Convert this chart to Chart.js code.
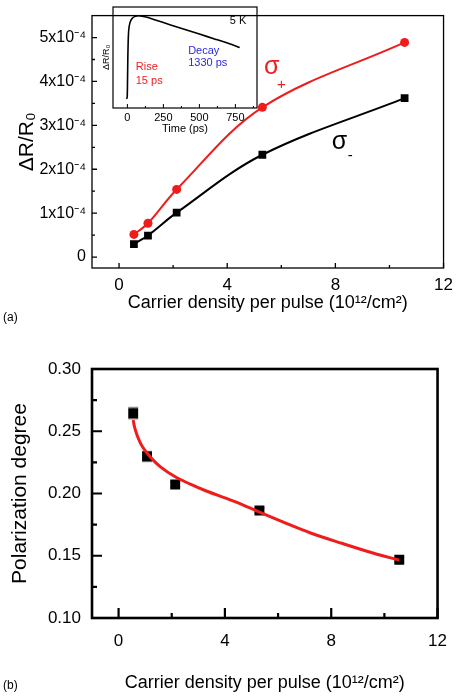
<!DOCTYPE html>
<html>
<head>
<meta charset="utf-8">
<script src="https://cdn.jsdelivr.net/npm/chart.js@4.4.1/dist/chart.umd.min.js"></script>
<style>
  body { margin: 0; background: #fff; width: 460px; height: 698px; position: relative; overflow: hidden; }
  .box { position: absolute; }
</style>
</head>
<body>
<div class="box" style="left:0;top:0;width:460px;height:330px"><canvas id="chartA"></canvas></div>
<div class="box" style="left:98px;top:0;width:165px;height:138px"><canvas id="inset"></canvas></div>
<div class="box" style="left:0;top:339px;width:460px;height:359px"><canvas id="chartB"></canvas></div>
<script>
// ---- panel (a): dR/R0 vs carrier density ----
const density = [0.55, 1.07, 2.13, 5.3, 10.56];
const sigmaPlus = [0.515e-4, 0.77e-4, 1.54e-4, 3.41e-4, 4.89e-4];
const sigmaMinus = [0.295e-4, 0.49e-4, 1.01e-4, 2.33e-4, 3.62e-4];
const xTicks = [0, 4, 8, 12];
const xMinor = [2, 6, 10];
const aYTicks = [0, 1e-4, 2e-4, 3e-4, 4e-4, 5e-4];
const aYTickLabels = ['0', '1x10⁻⁴', '2x10⁻⁴', '3x10⁻⁴', '4x10⁻⁴', '5x10⁻⁴'];
const aYMinor = [0.5e-4, 1.5e-4, 2.5e-4, 3.5e-4, 4.5e-4];

// ---- inset: transient at 5 K ----
const insetTime = [-8, -2, 0, 3, 6, 10, 18, 30, 50, 80, 130, 200, 300, 400, 500, 600, 700, 780];
const insetSignal = [0.10, 0.11, 0.2, 0.55, 0.75, 0.86, 0.93, 0.97, 0.995, 1.005, 0.99, 0.955, 0.905, 0.855, 0.805, 0.755, 0.705, 0.66];
const insetXTicks = [0, 250, 500, 750];
const insetXMinor = [125, 375, 625, 875];

// ---- panel (b): polarization degree ----
const polDegree = [0.2645, 0.2298, 0.2072, 0.1864, 0.1468];
const polError = [0.0045, 0.004, 0.002, 0.002, 0.002];
const fitX = [0.55, 0.6, 0.7, 0.8, 0.9, 1.07, 1.3, 1.6, 2.1, 2.7, 3.3, 4.0, 4.5, 5.3, 6.2, 7.2, 8.4, 9.6, 10.56];
const fitY = [0.259, 0.2535, 0.2465, 0.2415, 0.2375, 0.2325, 0.2268, 0.221, 0.2138, 0.2075, 0.202, 0.1965, 0.1925, 0.185, 0.177, 0.1685, 0.16, 0.152, 0.1465];
const bYTicks = [0.10, 0.15, 0.20, 0.25, 0.30];
const bYMinor = [0.125, 0.175, 0.225, 0.275];

const RED = '#f01c1c';
const FONT = '"Liberation Sans", Arial, sans-serif';
Chart.defaults.font.family = FONT;
Chart.defaults.color = '#000';

function pts(xs, ys) {
    return xs.map((x, i) => ({ x: x, y: ys[i] }));
}

// frame + inward ticks, drawn through the chart scales
function frameTicks(cfg) {
    return {
        id: 'frameTicks',
        afterDatasetsDraw(chart) {
            const { ctx, chartArea: a, scales: { x, y } } = chart;
            ctx.save();
            ctx.strokeStyle = '#000';
            ctx.lineWidth = cfg.width;
            ctx.strokeRect(a.left, a.top, a.right - a.left, a.bottom - a.top);
            ctx.lineWidth = cfg.tickWidth;
            ctx.beginPath();
            const xt = (vals, len) => vals.forEach(v => {
                const px = x.getPixelForValue(v);
                ctx.moveTo(px, a.bottom); ctx.lineTo(px, a.bottom - len);
            });
            const yt = (vals, len) => vals.forEach(v => {
                const py = y.getPixelForValue(v);
                ctx.moveTo(a.left, py); ctx.lineTo(a.left + len, py);
            });
            xt(cfg.xMajor, cfg.major); xt(cfg.xMinor, cfg.minor);
            yt(cfg.yMajor, cfg.major); yt(cfg.yMinor, cfg.minor);
            ctx.stroke();
            ctx.restore();
        }
    };
}

function notes(items) {
    return {
        id: 'notes',
        afterDraw(chart) {
            const { ctx, scales: { x, y } } = chart;
            items.forEach(it => {
                ctx.save();
                ctx.font = it.font;
                ctx.fillStyle = it.color || '#000';
                ctx.textAlign = it.align || 'left';
                ctx.textBaseline = 'middle';
                const px = it.px != null ? it.px : x.getPixelForValue(it.x);
                const py = it.py != null ? it.py : y.getPixelForValue(it.y);
                ctx.fillText(it.text, px, py);
                ctx.restore();
            });
        }
    };
}

const errorBars = {
    id: 'errorBars',
    beforeDatasetsDraw(chart) {
        const { ctx, scales: { x, y } } = chart;
        ctx.save();
        ctx.strokeStyle = '#8a8a8a';
        ctx.lineWidth = 1.5;
        ctx.beginPath();
        density.forEach((d, i) => {
            const px = x.getPixelForValue(d);
            const y1 = y.getPixelForValue(polDegree[i] + polError[i]);
            const y2 = y.getPixelForValue(polDegree[i] - polError[i]);
            ctx.moveTo(px, y1); ctx.lineTo(px, y2);
            ctx.moveTo(px - 5, y1); ctx.lineTo(px + 5, y1);
            ctx.moveTo(px - 5, y2); ctx.lineTo(px + 5, y2);
        });
        ctx.stroke();
        ctx.restore();
    }
};

const hidden = { display: false, drawTicks: false };

// panel (a)
new Chart(document.getElementById('chartA'), {
    type: 'scatter',
    data: {
        datasets: [
            {
                data: pts(density, sigmaPlus), showLine: true, tension: 0.35,
                borderColor: RED, backgroundColor: RED, borderWidth: 2,
                pointStyle: 'circle', pointRadius: 4.5, pointBorderWidth: 0
            },
            {
                data: pts(density, sigmaMinus), showLine: true, tension: 0.35,
                borderColor: '#000', backgroundColor: '#000', borderWidth: 2,
                pointStyle: 'rect', pointRadius: 5.5, pointBorderWidth: 0
            }
        ]
    },
    options: {
        responsive: true, maintainAspectRatio: false, animation: false, events: [],
        layout: { padding: { top: 7, right: 9, left: 0, bottom: 0 } },
        plugins: { legend: { display: false }, tooltip: { enabled: false } },
        scales: {
            x: {
                min: -1, max: 12,
                grid: hidden, border: { display: false },
                afterBuildTicks: s => { s.ticks = xTicks.map(v => ({ value: v })); },
                afterFit: s => { s.height = 62; },
                ticks: { padding: 7, font: { size: 17 }, maxRotation: 0 },
                title: { display: true, text: 'Carrier density per pulse (10¹²/cm²)', font: { size: 18 }, padding: { top: 0, bottom: 16 } }
            },
            y: {
                min: -0.25e-4, max: 5.5e-4,
                grid: hidden, border: { display: false },
                afterBuildTicks: s => { s.ticks = aYTicks.map(v => ({ value: v })); },
                afterFit: s => { s.width = 92; },
                ticks: { padding: 6, font: { size: 16 }, callback: (v, i) => aYTickLabels[i] },
                title: { display: true, text: 'ΔR/R₀', font: { size: 21 }, padding: { top: 15, bottom: 0 } }
            }
        }
    },
    plugins: [
        frameTicks({ width: 1.3, tickWidth: 1.3, major: 5, minor: 3, xMajor: xTicks, xMinor: xMinor, yMajor: aYTicks, yMinor: aYMinor }),
        notes([
            { text: 'σ', x: 5.65, y: 4.33e-4, font: '25px ' + FONT, color: RED, align: 'center' },
            { text: '+', x: 6.0, y: 3.93e-4, font: '15px ' + FONT, color: RED, align: 'center' },
            { text: 'σ', x: 8.15, y: 2.62e-4, font: '25px ' + FONT, color: '#000', align: 'center' },
            { text: '-', x: 8.55, y: 2.3e-4, font: '15px ' + FONT, color: '#000', align: 'center' },
            { text: '(a)', px: 3, py: 318, font: '12px ' + FONT, color: '#000' }
        ])
    ]
});

// inset
new Chart(document.getElementById('inset'), {
    type: 'scatter',
    data: {
        datasets: [{
            data: pts(insetTime, insetSignal), showLine: true, tension: 0.2,
            borderColor: '#000', borderWidth: 1.6, pointRadius: 0
        }]
    },
    options: {
        responsive: true, maintainAspectRatio: false, animation: false, events: [],
        layout: { padding: { top: 7, right: 6, left: 0, bottom: 2 } },
        plugins: { legend: { display: false }, tooltip: { enabled: false } },
        scales: {
            x: {
                min: -100, max: 900,
                grid: hidden, border: { display: false },
                afterBuildTicks: s => { s.ticks = insetXTicks.map(v => ({ value: v })); },
                afterFit: s => { s.height = 28; },
                ticks: { padding: 3, font: { size: 11 }, maxRotation: 0 },
                title: { display: true, text: 'Time (ps)', font: { size: 11 }, padding: { top: 0, bottom: 0 } }
            },
            y: {
                min: 0, max: 1.1,
                grid: hidden, border: { display: false },
                ticks: { display: false },
                afterFit: s => { s.width = 15; },
                title: { display: true, text: 'ΔR/R₀', font: { size: 9 }, padding: { top: 3, bottom: 0 } }
            }
        }
    },
    plugins: [
        frameTicks({ width: 1.2, tickWidth: 1, major: 4, minor: 2, xMajor: insetXTicks, xMinor: insetXMinor, yMajor: [], yMinor: [] }),
        notes([
            { text: '5 K', x: 768, y: 0.948, font: '11px ' + FONT, align: 'center' },
            { text: 'Decay', x: 422, y: 0.62, font: '11px ' + FONT, color: '#2a2ae0' },
            { text: '1330 ps', x: 422, y: 0.485, font: '11px ' + FONT, color: '#2a2ae0' },
            { text: 'Rise', x: 58, y: 0.447, font: '11px ' + FONT, color: RED },
            { text: '15 ps', x: 58, y: 0.294, font: '11px ' + FONT, color: RED }
        ])
    ]
});

// panel (b)
new Chart(document.getElementById('chartB'), {
    type: 'scatter',
    data: {
        datasets: [
            {
                data: pts(fitX, fitY), showLine: true, cubicInterpolationMode: 'monotone',
                borderColor: RED, borderWidth: 3, pointRadius: 0
            },
            {
                data: pts(density, polDegree),
                backgroundColor: '#000', pointStyle: 'rect', pointRadius: 7, pointBorderWidth: 0
            }
        ]
    },
    options: {
        responsive: true, maintainAspectRatio: false, animation: false, events: [],
        layout: { padding: { top: 30, right: 11, left: 0, bottom: 0 } },
        plugins: { legend: { display: false }, tooltip: { enabled: false } },
        scales: {
            x: {
                min: -1, max: 12,
                grid: hidden, border: { display: false },
                afterBuildTicks: s => { s.ticks = xTicks.map(v => ({ value: v })); },
                afterFit: s => { s.height = 80; },
                ticks: { padding: 13, font: { size: 17 }, maxRotation: 0 },
                title: { display: true, text: 'Carrier density per pulse (10¹²/cm²)', font: { size: 18 }, padding: { top: 0, bottom: 4 } }
            },
            y: {
                min: 0.10, max: 0.30,
                grid: hidden, border: { display: false },
                afterBuildTicks: s => { s.ticks = bYTicks.map(v => ({ value: v })); },
                afterFit: s => { s.width = 92; },
                ticks: { padding: 11, font: { size: 17 }, callback: v => v.toFixed(2) },
                title: { display: true, text: 'Polarization degree', font: { size: 21 }, padding: { top: 8, bottom: 0 } }
            }
        }
    },
    plugins: [
        errorBars,
        frameTicks({ width: 2.6, tickWidth: 2.2, major: 10, minor: 5, xMajor: xTicks, xMinor: xMinor, yMajor: bYTicks, yMinor: bYMinor }),
        notes([
            { text: '(b)', px: 3, py: 686, font: '12px ' + FONT, color: '#000' }
        ].map(n => Object.assign(n, { py: n.py - 339 })))
    ]
});
</script>
</body>
</html>
